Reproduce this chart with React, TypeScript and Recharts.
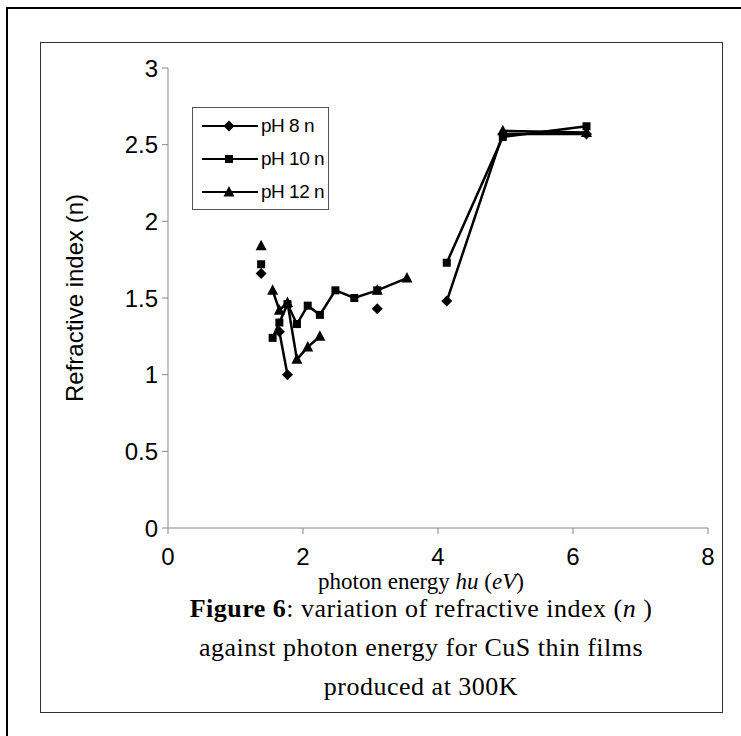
import React from 'react';
import { ComposedChart, Line, Scatter, XAxis, YAxis } from 'recharts';

// photon energy (eV)
const energy = [1.38, 1.55, 1.65, 1.77, 1.91, 2.07, 2.25, 2.48, 2.76, 3.1, 3.54, 4.13, 4.96, 6.2];

// refractive index n for each pH
const ph8 = [1.66, null, 1.28, 1.0, null, null, null, null, null, 1.43, null, 1.48, 2.57, 2.57];
const ph10 = [1.72, 1.24, 1.34, 1.46, 1.33, 1.45, 1.39, 1.55, 1.5, 1.55, null, 1.73, 2.55, 2.62];
const ph12 = [1.84, 1.55, 1.42, 1.47, 1.1, 1.18, 1.25, null, null, 1.55, 1.63, null, 2.59, 2.58];

const xTicks = [0, 2, 4, 6, 8];
const yTicks = [0, 0.5, 1, 1.5, 2, 2.5, 3];

const rows = energy.map((x, i) => ({ x, ph8: ph8[i], ph10: ph10[i], ph12: ph12[i] }));
// first reading is not joined to the rest
const lineRows = rows.slice(1);

const pts = (key: 'ph8' | 'ph10' | 'ph12') =>
  rows.filter((r) => r[key] != null).map((r) => ({ x: r.x, v: r[key] }));

const Diamond = (p: any) => (
  <polygon
    points={`${p.cx},${p.cy - 5.5} ${p.cx + 5.5},${p.cy} ${p.cx},${p.cy + 5.5} ${p.cx - 5.5},${p.cy}`}
    fill="#000"
  />
);
const Square = (p: any) => <rect x={p.cx - 4} y={p.cy - 4} width={8} height={8} fill="#000" />;
const Triangle = (p: any) => (
  <polygon
    points={`${p.cx},${p.cy - 6} ${p.cx + 5.5},${p.cy + 4.5} ${p.cx - 5.5},${p.cy + 4.5}`}
    fill="#000"
  />
);

const legendItems = [
  { name: 'pH 8 n', Shape: Diamond },
  { name: 'pH 10 n', Shape: Square },
  { name: 'pH 12 n', Shape: Triangle },
];

const sans = '"Liberation Sans", Arial, sans-serif';
const serif = '"Liberation Serif", "Times New Roman", serif';

export default function App() {
  return (
    <div style={{ position: 'absolute', left: 0, top: 0, width: 741, height: 736, overflow: 'hidden', background: '#fff' }}>
      <div style={{ position: 'absolute', left: 6, top: 7, width: 800, height: 800, border: '2px solid #000' }} />
      <div style={{ position: 'absolute', left: 40, top: 42, width: 681, height: 669, border: '1px solid #333' }} />

      <div style={{ position: 'absolute', left: 0, top: 0 }}>
        <ComposedChart width={741} height={736} margin={{ top: 68, right: 33, bottom: 168, left: 98 }}>
          <XAxis
            type="number"
            dataKey="x"
            domain={[0, 8]}
            ticks={xTicks}
            allowDataOverflow
            height={40}
            stroke="#888"
            tickSize={6}
            tickMargin={14}
            tick={{ fill: '#000', fontSize: 24, fontFamily: sans }}
          />
          <YAxis
            type="number"
            domain={[0, 3]}
            ticks={yTicks}
            width={70}
            stroke="#888"
            tickSize={6}
            tickMargin={4}
            tick={{ fill: '#000', fontSize: 24, fontFamily: sans }}
          />
          <Line data={lineRows} dataKey="ph8" stroke="#000" strokeWidth={2.5} dot={false} connectNulls={false} isAnimationActive={false} />
          <Line data={lineRows} dataKey="ph10" stroke="#000" strokeWidth={2.5} dot={false} connectNulls={false} isAnimationActive={false} />
          <Line data={lineRows} dataKey="ph12" stroke="#000" strokeWidth={2.5} dot={false} connectNulls={false} isAnimationActive={false} />
          <Scatter data={pts('ph8')} dataKey="v" shape={Diamond} isAnimationActive={false} />
          <Scatter data={pts('ph10')} dataKey="v" shape={Square} isAnimationActive={false} />
          <Scatter data={pts('ph12')} dataKey="v" shape={Triangle} isAnimationActive={false} />
        </ComposedChart>
      </div>

      {/* y axis title */}
      <div
        style={{
          position: 'absolute',
          left: 75,
          top: 298,
          transform: 'translate(-50%, -50%) rotate(-90deg)',
          whiteSpace: 'nowrap',
          fontFamily: sans,
          fontSize: 24,
        }}
      >
        Refractive index (n)
      </div>

      {/* legend */}
      <div style={{ position: 'absolute', left: 192, top: 107, width: 135, height: 101, border: '1px solid #555', background: '#fff' }}>
        {legendItems.map(({ name, Shape }, i) => (
          <div key={name} style={{ position: 'absolute', left: 7, top: 5 + i * 33, height: 26, display: 'flex', alignItems: 'center' }}>
            <svg width={60} height={20}>
              <line x1={2} y1={10} x2={58} y2={10} stroke="#000" strokeWidth={2} />
              <Shape cx={29} cy={10} />
            </svg>
            <span style={{ fontFamily: sans, fontSize: 19, letterSpacing: -0.5, marginLeft: 1 }}>{name}</span>
          </div>
        ))}
      </div>

      {/* captions */}
      <div style={{ position: 'absolute', left: 40, width: 762, top: 573, textAlign: 'center', fontFamily: serif, fontSize: 23, lineHeight: '17px' }}>
        photon energy <i>hu</i> (<i>eV</i>)
      </div>
      <div
        style={{
          position: 'absolute',
          left: 40,
          width: 762,
          top: 589,
          textAlign: 'center',
          fontFamily: serif,
          fontSize: 26,
          letterSpacing: 0.5,
          lineHeight: '39px',
        }}
      >
        <b>Figure 6</b>: variation of refractive index (<i>n</i> )
        <br />
        against photon energy for CuS thin films
        <br />
        produced at 300K
      </div>
    </div>
  );
}
